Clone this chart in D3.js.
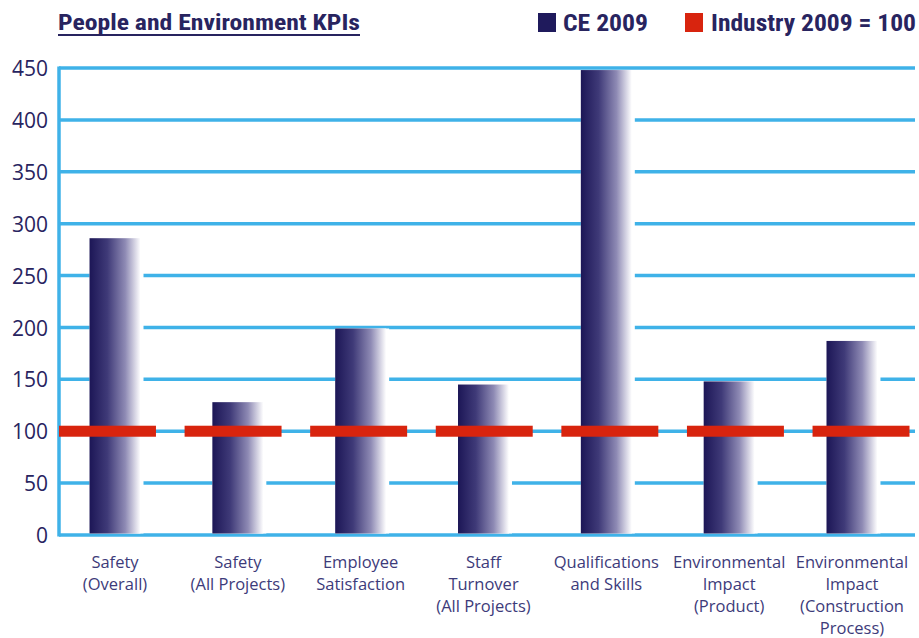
<!DOCTYPE html>
<html><head><meta charset="utf-8">
<script src="https://cdn.jsdelivr.net/npm/d3@7"></script>
<style>body{margin:0;background:#fff}svg{display:block}</style>
</head><body>
<svg id="c" width="919" height="638"></svg>
<script>
const categories = [
  ["Safety","(Overall)"],
  ["Safety","(All Projects)"],
  ["Employee","Satisfaction"],
  ["Staff","Turnover","(All Projects)"],
  ["Qualifications","and Skills"],
  ["Environmental","Impact","(Product)"],
  ["Environmental","Impact","(Construction","Process)"]
];
const ceValues = [286, 128, 199, 145, 448, 148, 187];
const industryValues = [100, 100, 100, 100, 100, 100, 100];
const yTicks = [0, 50, 100, 150, 200, 250, 300, 350, 400, 450];
const title = "People and Environment KPIs";
const legendLabels = ["CE 2009", "Industry 2009 = 100"];

const navy = "#1f1a5c", blue = "#3fb2e8", red = "#d8240e", textNavy = "#28245f", catText = "#3d3b7a";
const svg = d3.select("#c");
const keys = categories.map((d,i)=>i);

const y = d3.scaleLinear().domain([0,450]).range([535,68]);
const xBar = d3.scaleBand().domain(keys).range([53.6, 913.4]).paddingInner(0.585).paddingOuter(0.2925);
const xRed = d3.scaleBand().domain(keys).range([59, 909.5]).paddingInner(0.228).paddingOuter(0);

const defs = svg.append("defs");
const g = defs.append("linearGradient").attr("id","barGrad").attr("x1","0").attr("x2","1").attr("y1","0").attr("y2","0");
g.append("stop").attr("offset","0%").attr("stop-color","#1c1656");
g.append("stop").attr("offset","35%").attr("stop-color","#3f3a78");
g.append("stop").attr("offset","70%").attr("stop-color","#8e8ab4");
g.append("stop").attr("offset","100%").attr("stop-color","#ffffff");

// gridlines
svg.append("g").selectAll("line").data(yTicks).join("line")
  .attr("x1",59).attr("x2",915).attr("y1",d=>y(d)).attr("y2",d=>y(d))
  .attr("stroke",blue).attr("stroke-width",3.5);
// y axis line
svg.append("line").attr("x1",59).attr("x2",59).attr("y1",y(450)-1.5).attr("y2",y(0)+1.5)
  .attr("stroke",blue).attr("stroke-width",3.5);

// y tick labels
const yAxis = d3.axisLeft(y).tickValues(yTicks).tickSize(0).tickPadding(11);
const ya = svg.append("g").attr("transform","translate(59,0)").call(yAxis);
ya.select(".domain").remove();
ya.selectAll("text").attr("font-family","'Open Sans', sans-serif").attr("font-size",21)
  .attr("fill",textNavy).attr("dy","0.36em");

// bars (white underlay to hide gridlines)
svg.append("g").selectAll("rect").data(ceValues).join("rect")
  .attr("x",(d,i)=>xBar(i)).attr("width",xBar.bandwidth()+3)
  .attr("y",d=>y(d)).attr("height",d=>y(0)-y(d)-1.5).attr("fill","#fff");
svg.append("g").selectAll("rect").data(ceValues).join("rect")
  .attr("x",(d,i)=>xBar(i)).attr("width",xBar.bandwidth())
  .attr("y",d=>y(d)).attr("height",d=>y(0)-y(d)-1.5).attr("fill","url(#barGrad)");

// industry marks
svg.append("g").selectAll("rect").data(industryValues).join("rect")
  .attr("x",(d,i)=>xRed(i)).attr("width",xRed.bandwidth())
  .attr("y",d=>y(d)-5.5).attr("height",11).attr("fill",red);

// category labels
const cl = svg.append("g").selectAll("text").data(categories).join("text")
  .attr("x",(d,i)=>xBar(i)+xBar.bandwidth()/2).attr("y",568)
  .attr("text-anchor","middle").attr("font-family","'Open Sans', sans-serif")
  .attr("font-size",16.5).attr("fill",catText);
cl.selectAll("tspan").data(d=>d).join("tspan")
  .attr("x",function(){return this.parentNode.getAttribute("x");})
  .attr("dy",(d,i)=>i===0?0:22).text(d=>d);

// title
const t = svg.append("text").attr("x",58).attr("y",30).text(title)
  .attr("font-family","'Liberation Sans Narrow', 'Roboto Condensed', sans-serif").attr("font-weight","bold")
  .attr("font-size",22).attr("fill",textNavy).attr("textLength",302).attr("lengthAdjust","spacingAndGlyphs");
svg.append("line").attr("x1",58).attr("x2",360).attr("y1",35).attr("y2",35).attr("stroke",textNavy).attr("stroke-width",1.8);

// legend
const legendColors = [navy, red];
const legX = [538, 685], legTX = [563, 711], legW = [85, 205];
legendLabels.forEach((lab,i)=>{
  svg.append("rect").attr("x",legX[i]).attr("y",13).attr("width",18).attr("height",19).attr("fill",legendColors[i]);
  svg.append("text").attr("x",legTX[i]).attr("y",31).text(lab)
    .attr("font-family","'Liberation Sans Narrow', 'Roboto Condensed', sans-serif").attr("font-weight","bold")
    .attr("font-size",23).attr("fill",textNavy).attr("textLength",legW[i]).attr("lengthAdjust","spacingAndGlyphs");
});
</script>
</body></html>
